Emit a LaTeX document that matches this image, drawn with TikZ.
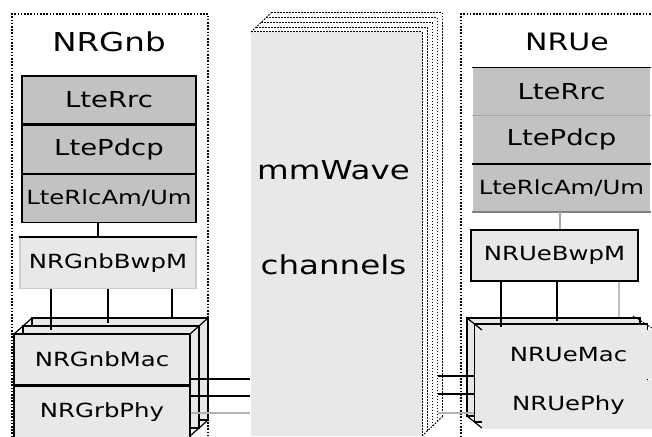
\documentclass[tikz,border=0pt]{standalone}
\usepackage{fontspec}
\setmainfont[FakeStretch=1.25]{DejaVu Sans}
\usetikzlibrary{positioning}
\definecolor{stackgray}{HTML}{C2C2C2}
\definecolor{boxgray}{HTML}{E8E8E8}
\newcommand{\fsz}[1]{\fontsize{#1}{#1}\selectfont}
\tikzset{
  layer/.style={draw, fill=stackgray, minimum width=174pt, minimum height=48pt, inner sep=0pt, font=\fsz{22}},
  uelayer/.style={fill=stackgray, minimum width=177pt, minimum height=47pt, inner sep=0pt, font=\fsz{22}},
  bwp/.style={fill=boxgray, minimum height=51pt, inner sep=0pt, font=\fsz{19.5}},
  macphy/.style={fill=boxgray, minimum width=176pt, minimum height=51pt, inner sep=0pt, font=\fsz{19.5}},
  frame/.style={line width=1.6pt, dash pattern=on 1.6pt off 1.6pt},
  chdots/.style={line width=1pt, dash pattern=on 1.5pt off 1.5pt},
}
\begin{document}
\begin{tikzpicture}[x=1pt,y=-1pt,line width=1.2pt]
    \useasboundingbox (0,0) rectangle (652,436);
    % gNB side
    \draw[frame] (12,450) -- (12,14) -- (208,14) -- (208,450);
    \node[font=\fsz{26}] (gnb) at (109,42) {NRGnb};
    \node[layer] (rrcG) at (109,100) {LteRrc};
    \node[layer, below=0pt of rrcG] (pdcpG) {LtePdcp};
    \node[layer, below=0pt of pdcpG, font=\fsz{19.5}] (rlcG) {LteRlcAm/Um};
    \node[bwp, draw=gray!40, minimum width=176pt] (bwpG) at (108,263) {NRGnbBwpM};
    \draw (bwpG.north west) -- (bwpG.north east);
    \draw ([xshift=-11pt]rlcG.south) -- ([xshift=-11pt]rlcG.south |- bwpG.north);
    \foreach \k in {2,1}
        \draw[fill=boxgray] (14+9*\k,334-8*\k) rectangle (190+9*\k,436-8*\k);
    \draw (14,334) -- (32,318) (190,334) -- (208,318) (190,436) -- (208,420);
    \node[macphy, draw] (macG) at (102,359.5) {NRGnbMac};
    \node[macphy, draw, below=0pt of macG] (phyG) {NRGrbPhy};
    \foreach \x/\y in {51/330,108/323,172/318}
        \draw (bwpG.south -| \x,0) -- (\x,\y);
    % channel
    \node[fill=boxgray, minimum width=171pt, minimum height=404pt, inner sep=0pt] (chan) at (336.5,234) {};
    \foreach \k in {0,...,4}
        \draw[chdots] (251+5*\k,32-4.75*\k) -- (422+5*\k,32-4.75*\k) -- (422+5*\k,436-4.75*\k);
    \draw[chdots] (251,32) -- (271,13) (422,436) -- (442,417);
    \node[font=\fsz{26}] (mmw) at ([yshift=64pt,xshift=-3pt]chan.center) {mmWave};
    \node[font=\fsz{26}] (chn) at ([yshift=-31pt,xshift=-3pt]chan.center) {channels};
    \foreach \y/\c in {379/black,396/black,413/gray!60}
        \draw[\c] (phyG.east |- 0,\y) -- (chan.west |- 0,\y);
    % UE side
    \draw[frame] (461,450) -- (461,14) -- (660,14);
    \node[font=\fsz{24}] (ue) at (567,42) {NRUe};
    \node[uelayer] (rrcU) at (561.5,91.5) {LteRrc};
    \node[uelayer, below=0pt of rrcU] (pdcpU) {LtePdcp};
    \node[uelayer, below=0pt of pdcpU, font=\fsz{19.5}] (rlcU) {LteRlcAm/Um};
    \draw[line width=1.6pt] (rrcU.north west) -- (rrcU.north east);
    \draw[gray!70] (rrcU.south west) -- (rrcU.south east);
    \draw[line width=1.6pt] (pdcpU.south west) -- (pdcpU.south east);
    \draw[gray] (rlcU.south west) -- (rlcU.south east);
    \node[bwp, draw, minimum width=167pt] (bwpU) at (554.5,255.5) {NRUeBwpM};
    \draw[gray!70] ([xshift=-1.5pt]rlcU.south) -- ([xshift=-1.5pt]rlcU.south |- bwpU.north);
    \foreach \k in {2,1}
        \draw[fill=boxgray] (482-7.5*\k,330-6*\k) rectangle (655-7.5*\k,428-6*\k);
    \draw (482,330) -- (467,318) (482,428) -- (467,416);
    \draw[chdots] (633,316) -- (652,328);
    \node[macphy, minimum width=173pt, minimum height=49pt] (macU) at (568.5,354.5) {NRUeMac};
    \node[macphy, minimum width=173pt, minimum height=49pt, below=0pt of macU] (phyU) {NRUePhy};
    \foreach \x/\y in {501/327,557/321}
        \draw (bwpU.south -| \x,0) -- (\x,\y);
    \draw[gray!50] (bwpU.south -| 619,0) -- (619,317);
    \coordinate (ueIn) at ([xshift=-7pt]macU.west);
    \foreach \y/\c in {376/black,394/black,413/gray!60}
        \draw[\c] (438,\y) -- (ueIn |- 0,\y);
\end{tikzpicture}
\end{document}
